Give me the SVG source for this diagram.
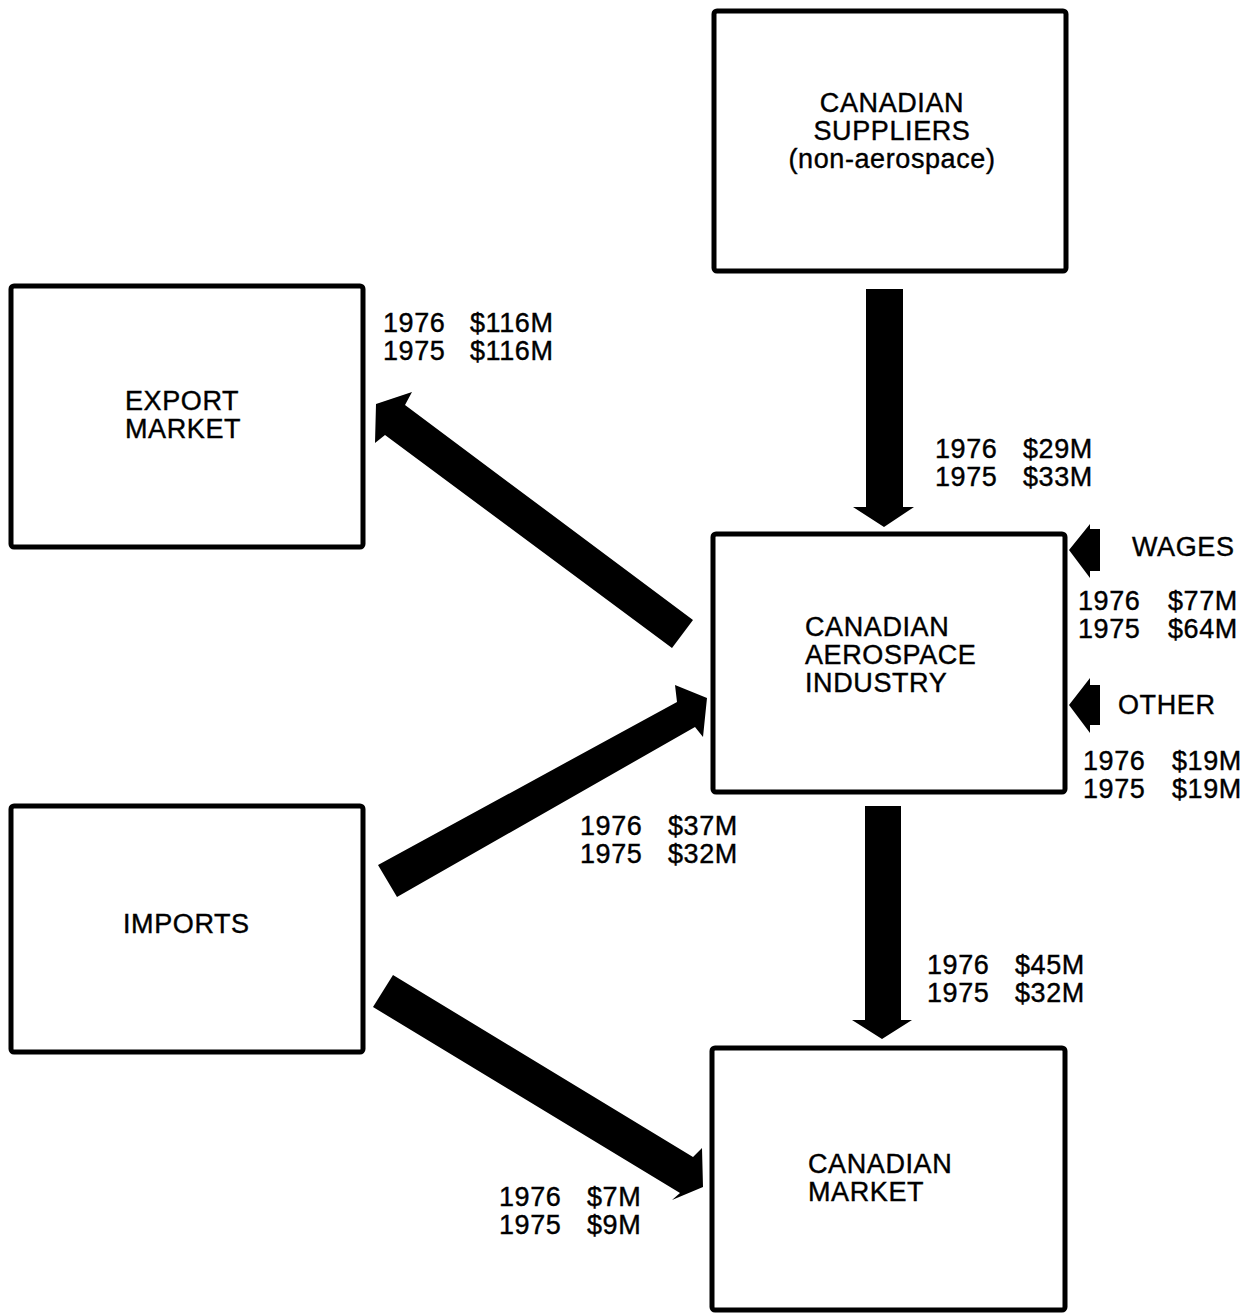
<svg xmlns="http://www.w3.org/2000/svg" width="1250" height="1313" viewBox="0 0 1250 1313">
<style>
.box{fill:#fff;stroke:#000;stroke-width:5}
.t{font-family:"Liberation Sans",Arial,Helvetica,sans-serif;font-size:27px;letter-spacing:0.6px;fill:#000;stroke:#000;stroke-width:0.4}
.arr{fill:#000}
</style>
<rect width="1250" height="1313" fill="#fff"/>
<g id="canadian-suppliers">
<rect class="box" x="714" y="11" width="352" height="260" rx="3"/>
<text class="t" x="892" y="112" text-anchor="middle">CANADIAN</text>
<text class="t" x="892" y="140" text-anchor="middle">SUPPLIERS</text>
<text class="t" x="892" y="168" text-anchor="middle">(non-aerospace)</text>
</g>
<g id="export-market">
<rect class="box" x="11" y="286" width="352" height="261" rx="3"/>
<text class="t" x="125" y="410">EXPORT</text>
<text class="t" x="125" y="438">MARKET</text>
</g>
<g id="canadian-aerospace-industry">
<rect class="box" x="713" y="534" width="352" height="258" rx="3"/>
<text class="t" x="805" y="636">CANADIAN</text>
<text class="t" x="805" y="664">AEROSPACE</text>
<text class="t" x="805" y="692">INDUSTRY</text>
</g>
<g id="imports">
<rect class="box" x="11" y="806" width="352" height="246" rx="3"/>
<text class="t" x="123" y="933">IMPORTS</text>
</g>
<g id="canadian-market">
<rect class="box" x="712" y="1048" width="353" height="262" rx="3"/>
<text class="t" x="808" y="1173">CANADIAN</text>
<text class="t" x="808" y="1201">MARKET</text>
</g>
<g id="connectors">
<polygon class="arr" points="866,289 903,289 903,507 914,507 884,527 853,507 866,507"/>
<polygon class="arr" points="865,806 901,806 901,1020 912,1020 882,1039 852,1020 865,1020"/>
<polygon class="arr" points="693,620 672,648 385,435 375,443 376,404 412,392 405,405"/>
<polygon class="arr" points="378,865 677,702 675,685 707,698 703,737 695,727 397,897"/>
<polygon class="arr" points="393,975 693,1157 702,1148 703,1187 672,1200 680,1193 373,1007"/>
<polygon class="arr" points="1069,550 1090,524 1090,529 1100,529 1100,571 1090,571 1090,578"/>
<polygon class="arr" points="1069,705 1090,678 1090,685 1100,685 1100,725 1090,725 1090,733"/>
</g>
<g id="labels">
<text class="t" x="383" y="332">1976</text><text class="t" x="470" y="332">$116M</text>
<text class="t" x="383" y="360">1975</text><text class="t" x="470" y="360">$116M</text>
<text class="t" x="935" y="458">1976</text><text class="t" x="1023" y="458">$29M</text>
<text class="t" x="935" y="486">1975</text><text class="t" x="1023" y="486">$33M</text>
<text class="t" x="1132" y="556">WAGES</text>
<text class="t" x="1078" y="610">1976</text><text class="t" x="1168" y="610">$77M</text>
<text class="t" x="1078" y="638">1975</text><text class="t" x="1168" y="638">$64M</text>
<text class="t" x="1118" y="714">OTHER</text>
<text class="t" x="1083" y="770">1976</text><text class="t" x="1172" y="770">$19M</text>
<text class="t" x="1083" y="798">1975</text><text class="t" x="1172" y="798">$19M</text>
<text class="t" x="580" y="835">1976</text><text class="t" x="668" y="835">$37M</text>
<text class="t" x="580" y="863">1975</text><text class="t" x="668" y="863">$32M</text>
<text class="t" x="927" y="974">1976</text><text class="t" x="1015" y="974">$45M</text>
<text class="t" x="927" y="1002">1975</text><text class="t" x="1015" y="1002">$32M</text>
<text class="t" x="499" y="1206">1976</text><text class="t" x="587" y="1206">$7M</text>
<text class="t" x="499" y="1234">1975</text><text class="t" x="587" y="1234">$9M</text>
</g>
</svg>
